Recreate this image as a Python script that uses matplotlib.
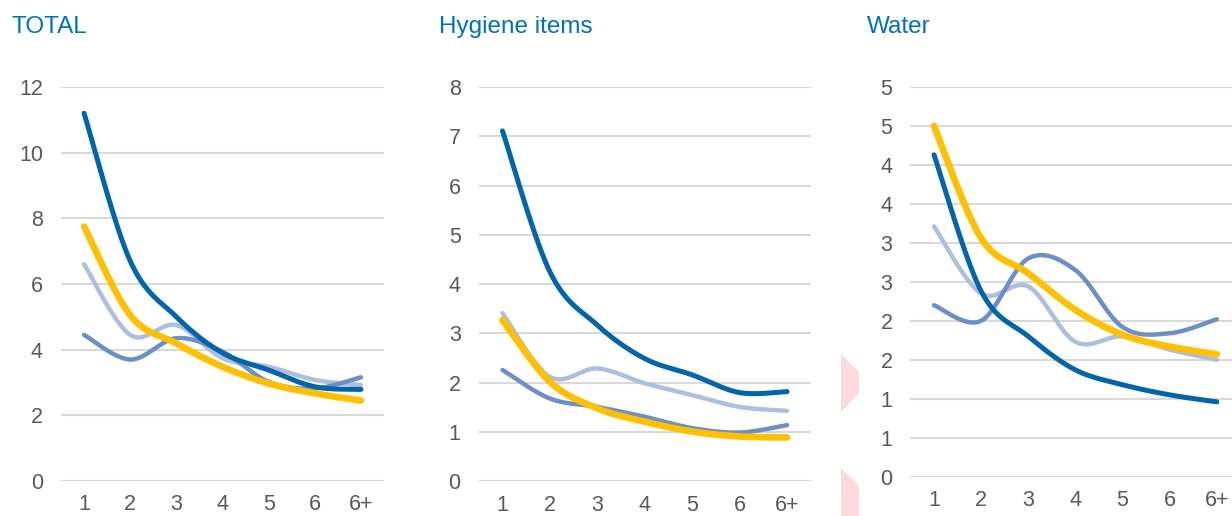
import numpy as np
import matplotlib
matplotlib.use("Agg")
import matplotlib.pyplot as plt
from matplotlib.ticker import FuncFormatter, MultipleLocator
from matplotlib.patches import Polygon

plt.rcParams['font.family'] = ['Liberation Sans', 'DejaVu Sans']

# household size categories
categories = ["1", "2", "3", "4", "5", "6", "6+"]

# TOTAL
total_dark = [11.2, 6.7, 5.0, 3.9, 3.38, 2.87, 2.79]
total_medium = [4.45, 3.7, 4.35, 3.94, 3.02, 2.82, 3.16]
total_light = [6.6, 4.45, 4.75, 3.74, 3.48, 3.08, 2.92]
total_yellow = [7.75, 5.05, 4.19, 3.48, 2.97, 2.67, 2.45]

# Hygiene items
hyg_dark = [7.11, 4.25, 3.17, 2.49, 2.16, 1.80, 1.82]
hyg_medium = [2.26, 1.68, 1.51, 1.31, 1.08, 0.99, 1.14]
hyg_light = [3.41, 2.12, 2.29, 1.99, 1.75, 1.51, 1.43]
hyg_yellow = [3.27, 2.02, 1.48, 1.21, 1.01, 0.91, 0.89]

# Water
water_dark = [4.13, 2.38, 1.80, 1.37, 1.18, 1.05, 0.96]
water_medium = [2.20, 2.0, 2.80, 2.65, 1.92, 1.84, 2.02]
water_light = [3.21, 2.35, 2.44, 1.73, 1.80, 1.63, 1.50]
water_yellow = [4.50, 3.06, 2.61, 2.14, 1.82, 1.67, 1.57]

DARK = "#0065AB"
MEDIUM = "#6C8FC8"
LIGHT = "#ADBFDE"
YELLOW = "#FFC000"
TITLE_BLUE = "#0070C0"
TICK_GREY = "#595959"
GRID_GREY = "#D9D9D9"


def smooth(y, n=30):
    # bezier smoothing in the style of spreadsheet "smoothed line"
    x = np.arange(len(y), dtype=float)
    y = np.asarray(y, dtype=float)
    pts = np.column_stack([x, y])
    out = []
    for i in range(len(pts) - 1):
        p0 = pts[i - 1] if i > 0 else pts[i]
        p1 = pts[i]
        p2 = pts[i + 1]
        p3 = pts[i + 2] if i + 2 < len(pts) else pts[i + 1]
        c1 = p1 + (p2 - p0) / 6.0
        c2 = p2 - (p3 - p1) / 6.0
        t = np.linspace(0, 1, n)[:, None]
        seg = ((1 - t) ** 3) * p1 + 3 * ((1 - t) ** 2) * t * c1 + 3 * (1 - t) * t ** 2 * c2 + t ** 3 * p2
        out.append(seg if i == 0 else seg[1:])
    out = np.vstack(out)
    return out[:, 0], out[:, 1]


fig = plt.figure(figsize=(12.32, 5.16), dpi=100)

panels = [
    ("TOTAL", [0.0495, 0.0678, 0.2622, 0.7636], 12, 2, (total_dark, total_medium, total_light, total_yellow), None, 12 / 1232),
    ("Hygiene items", [0.3886, 0.0672, 0.2695, 0.7641], 8, 1, (hyg_dark, hyg_medium, hyg_light, hyg_yellow), None, 439 / 1232),
    ("Water", [0.7390, 0.0762, 0.2678, 0.7552], 5, 0.5, (water_dark, water_medium, water_light, water_yellow), "round", 867 / 1232),
]

for title, rect, ymax, step, series, fmt, tx in panels:
    ax = fig.add_axes(rect)
    dark, medium, light, yellow = series
    for vals, col, lw, z in [(light, LIGHT, 3.2, 2), (medium, MEDIUM, 3.2, 3),
                             (dark, DARK, 3.6, 4), (yellow, YELLOW, 4.8, 5)]:
        xs, ys = smooth(vals)
        ax.plot(xs, ys, color=col, lw=lw, solid_capstyle='round', zorder=z, clip_on=False)
    ax.set_xlim(-0.5, len(categories) - 0.5)
    ax.set_ylim(0, ymax)
    ax.yaxis.set_major_locator(MultipleLocator(step))
    if fmt == "round":
        ax.yaxis.set_major_formatter(FuncFormatter(lambda v, p: "%d" % int(np.floor(v + 0.5 + 1e-9))))
    ax.set_xticks(range(len(categories)))
    ax.set_xticklabels(categories)
    ax.grid(axis='y', color=GRID_GREY, lw=1.5, zorder=0)
    ax.set_axisbelow(True)
    for s in ax.spines.values():
        s.set_visible(False)
    ax.tick_params(axis='both', length=0, labelsize=15.5, labelcolor=TICK_GREY)
    ax.tick_params(axis='y', pad=13)
    ax.tick_params(axis='x', pad=9.5)
    fig.text(tx, 0.9355, title, color=TITLE_BLUE, fontsize=17.5, ha='left', va='baseline')

# pink arrow fragments at the left of the water panel
W, H = 1232.0, 516.0
pink = "#FADADD"
for pts in ([(841, 354), (859, 372), (859, 393), (841, 412)],
            [(841, 468), (859, 486), (859, 516), (841, 516)]):
    fig.patches.append(Polygon([(px / W, 1 - py / H) for px, py in pts], closed=True,
                               transform=fig.transFigure, facecolor=pink, edgecolor='none'))

fig.savefig("out.png", dpi=100)
